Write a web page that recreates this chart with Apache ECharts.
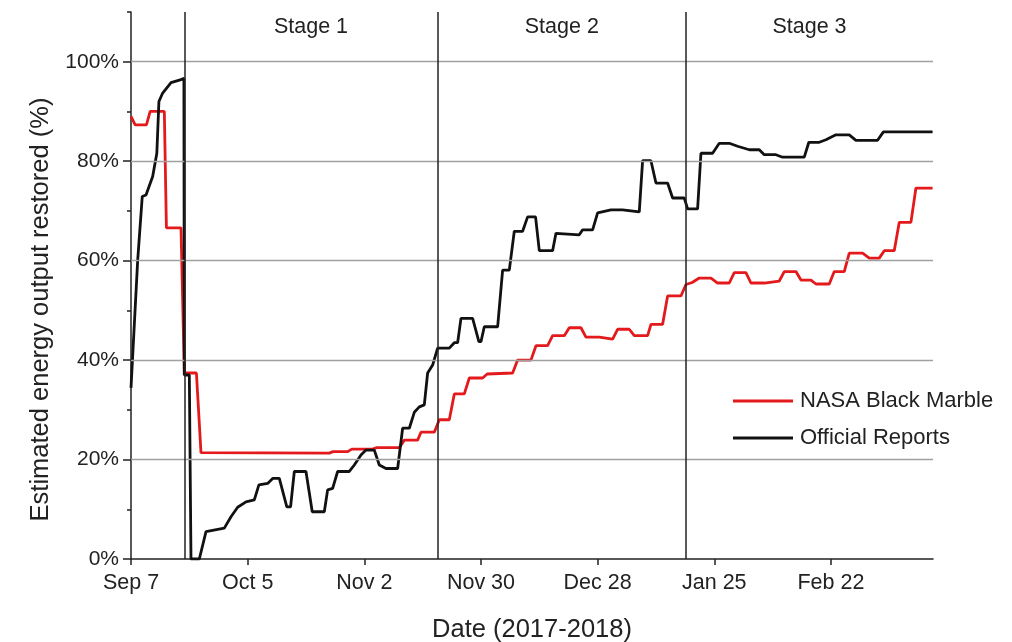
<!DOCTYPE html>
<html><head><meta charset="utf-8">
<script src="https://cdn.jsdelivr.net/npm/echarts@6/dist/echarts.min.js"></script>
<style>html,body{margin:0;padding:0;background:#fff}#c{width:1012px;height:642px}</style>
</head><body><div id="c"></div>
<script>
// days counted from Sep 7, 2017
const tickDays = [0, 28, 56, 84, 112, 140, 168];
const tickLabels = ['Sep 7', 'Oct 5', 'Nov 2', 'Nov 30', 'Dec 28', 'Jan 25', 'Feb 22'];
const yLabelValues = [0, 20, 40, 60, 80, 100];
const gridValues = [20, 40, 60, 80, 100];
const stageBounds = [12.8, 73.6, 133.2, 192.5];
const stageNames = ['Stage 1', 'Stage 2', 'Stage 3'];

const nasaDays = [0, 1, 3.7, 4.6, 8, 8.5, 12, 12.8, 15.7, 16.8, 47.6, 48.5, 52, 53, 58, 59, 64.4, 65.6, 68.8, 69.6, 72.8, 74, 76.4, 77.6, 80, 81.2, 84.4, 85.5, 91.6, 92.8, 96, 97.2, 100, 101.2, 104, 105.2, 108, 109.2, 112.4, 115.6, 116.8, 119.6, 120.8, 124, 124.8, 127.6, 128.8, 132, 133.2, 134.7, 136.4, 139.2, 140.8, 143.6, 144.8, 147.6, 148.8, 152, 155.6, 156.8, 159.6, 160.8, 163.2, 164.4, 167.6, 168.8, 171.2, 172.4, 175.6, 177.2, 179.6, 180.8, 183.2, 184.4, 187.2, 188.4, 192.4];
const nasaValues = [89, 87.3, 87.3, 90, 90, 66.6, 66.6, 37.4, 37.4, 21.4, 21.3, 21.6, 21.6, 22.1, 22.1, 22.4, 22.4, 23.9, 23.9, 25.5, 25.5, 28, 28, 33.2, 33.2, 36.4, 36.4, 37.2, 37.4, 40, 40, 42.9, 42.9, 44.9, 44.9, 46.5, 46.5, 44.6, 44.6, 44.2, 46.2, 46.2, 44.9, 44.9, 47.2, 47.2, 52.9, 52.9, 55.2, 55.6, 56.5, 56.5, 55.5, 55.5, 57.6, 57.6, 55.5, 55.5, 55.9, 57.8, 57.8, 56.1, 56.1, 55.3, 55.3, 57.8, 57.8, 61.5, 61.5, 60.5, 60.5, 62, 62, 67.7, 67.7, 74.6, 74.6];

const officialDays = [0, 1.6, 2.7, 3.6, 5.2, 6.2, 6.7, 7.6, 9.6, 12, 12.7, 12.8, 14, 14.4, 16.4, 18, 22.4, 24, 25.6, 27.6, 29.6, 30.7, 32.8, 34, 35.6, 36, 37.4, 38.3, 39.2, 42, 43.5, 46.4, 47.2, 48.4, 49.6, 52.4, 53.6, 55.2, 56.4, 58.4, 59.6, 61.2, 64, 65.2, 66.8, 68, 69.2, 70.4, 71.2, 72.4, 73.6, 76.4, 77.6, 78.4, 79.2, 82, 83.5, 84, 84.8, 88, 89.2, 90.8, 92, 94, 95.2, 97.1, 98, 101.2, 102, 107.6, 108.4, 110.8, 112, 115.2, 118, 122, 122.8, 124.8, 126, 128.8, 130, 132.8, 133.6, 136, 136.8, 139.6, 141.2, 143.6, 145.6, 148.4, 150.8, 152, 154.8, 156.4, 161.6, 162.7, 165.2, 166.8, 169.2, 172.4, 174, 179.2, 180.6, 192.4];
const officialValues = [34.4, 60, 72.9, 73.2, 76.9, 81.6, 92, 93.7, 95.8, 96.4, 96.7, 37, 37, 0, 0, 5.5, 6.2, 8.5, 10.4, 11.5, 11.9, 14.9, 15.2, 16.2, 16.2, 15.9, 10.5, 10.5, 17.6, 17.6, 9.5, 9.5, 13.9, 14.2, 17.6, 17.6, 18.9, 20.9, 21.9, 21.9, 18.9, 18.2, 18.2, 26.3, 26.3, 29.5, 30.6, 31, 37.4, 39, 42.4, 42.4, 43.5, 43.5, 48.4, 48.4, 43.7, 43.7, 46.7, 46.7, 58.1, 58.1, 65.9, 65.9, 68.8, 68.8, 62, 62, 65.5, 65.2, 66.2, 66.2, 69.6, 70.2, 70.2, 69.8, 80.1, 80.1, 75.6, 75.6, 72.6, 72.6, 70.4, 70.4, 81.6, 81.6, 83.6, 83.6, 83, 82.3, 82.3, 81.3, 81.3, 80.8, 80.8, 83.8, 83.8, 84.3, 85.3, 85.3, 84.2, 84.2, 85.9, 85.9];

const FONT = "'Liberation Sans', Arial, sans-serif";
const pair = (xs, ys) => xs.map((x, i) => [x, ys[i]]);

const chart = echarts.init(document.getElementById('c'), null, {renderer: 'canvas'});
chart.setOption({
  animation: false,
  backgroundColor: '#fff',
  textStyle: {fontFamily: FONT},
  grid: {left: 131, right: 79, top: 12, bottom: 83, containLabel: false, outerBoundsMode: 'none'},
  legend: {
    orient: 'vertical', left: 728, top: 385, itemWidth: 60, itemHeight: 3, itemGap: 15,
    icon: 'rect',
    data: ['NASA Black Marble', 'Official Reports'],
    textStyle: {fontSize: 22, color: '#222', fontFamily: FONT, padding: [0, 0, 0, 2]}
  },
  xAxis: {
    type: 'value', min: 0, max: stageBounds[3], interval: 28,
    name: 'Date (2017-2018)', nameLocation: 'middle', nameGap: 58,
    nameTextStyle: {fontSize: 25.5, color: '#222', fontFamily: FONT},
    axisLine: {show: true, lineStyle: {color: '#222', width: 1.5}},
    axisTick: {show: true, length: 6, customValues: tickDays, lineStyle: {color: '#222', width: 1.5}},
    axisLabel: {customValues: tickDays, fontSize: 21.5, color: '#222', margin: 13, fontFamily: FONT,
      formatter: v => { const i = tickDays.indexOf(v); return i >= 0 ? tickLabels[i] : ''; }},
    splitLine: {show: false}
  },
  yAxis: [{
    type: 'value', min: 0, max: 110, interval: 20,
    name: 'Estimated energy output restored (%)', nameLocation: 'middle', nameGap: 76,
    nameTextStyle: {fontSize: 25.5, color: '#222', fontFamily: FONT, padding: [0, 48, 0, 0]},
    axisLine: {show: true, lineStyle: {color: '#222', width: 1.5}},
    axisTick: {show: true, length: 8, customValues: yLabelValues, lineStyle: {color: '#222', width: 1.5}},
    axisLabel: {customValues: yLabelValues, fontSize: 21, color: '#222', margin: 12, fontFamily: FONT,
      formatter: v => (yLabelValues.indexOf(v) >= 0 ? v + '%' : '')},
    splitLine: {show: false}
  }, {
    type: 'value', min: 0, max: 110, interval: 10, position: 'left', offset: 0,
    axisLine: {show: false},
    axisTick: {show: true, length: 4, lineStyle: {color: '#222', width: 1.5}},
    axisLabel: {show: false},
    splitLine: {show: false}
  }],
  series: [
    {
      name: 'grid', type: 'line', data: [], z: 1, silent: true,
      markLine: {
        silent: true, symbol: 'none', label: {show: false}, animation: false,
        lineStyle: {color: '#a0a0a0', width: 1.3, type: 'solid'},
        data: gridValues.map(v => ({yAxis: v}))
      },
      markArea: {
        silent: true, itemStyle: {color: 'rgba(0,0,0,0)'},
        label: {show: true, position: 'insideTop', distance: 4, fontSize: 21.5, color: '#222', fontFamily: FONT},
        data: stageNames.map((n, i) => [{xAxis: stageBounds[i], name: n}, {xAxis: stageBounds[i + 1]}])
      }
    },
    {
      name: 'NASA Black Marble', type: 'line', data: pair(nasaDays, nasaValues), z: 3,
      showSymbol: false, symbol: 'none', color: '#e3191c',
      lineStyle: {color: '#e3191c', width: 2.8}
    },
    {
      name: 'Official Reports', type: 'line', data: pair(officialDays, officialValues), z: 4,
      showSymbol: false, symbol: 'none', color: '#111',
      lineStyle: {color: '#111', width: 2.8}
    },
    {
      name: 'stages', type: 'line', data: [], z: 5, silent: true,
      markLine: {
        silent: true, symbol: 'none', label: {show: false}, animation: false,
        lineStyle: {color: '#222', width: 1.5, type: 'solid'},
        data: stageBounds.slice(0, 3).map(v => ({xAxis: v}))
      }
    }
  ]
});
</script></body></html>
